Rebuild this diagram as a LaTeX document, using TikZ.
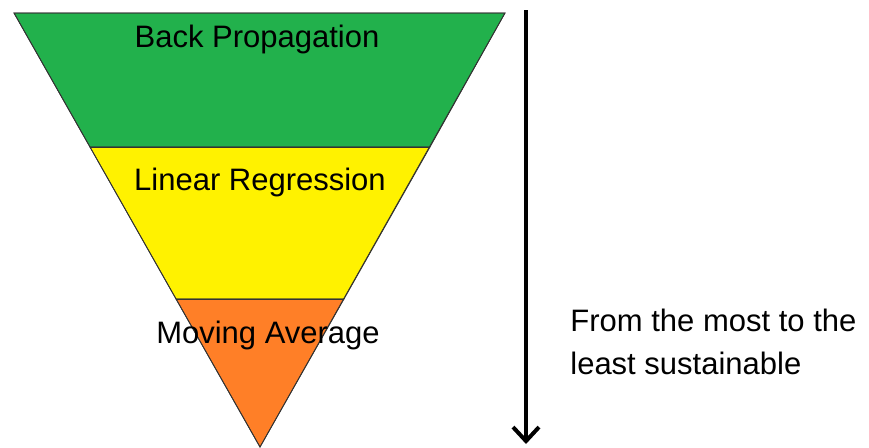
\documentclass[tikz,border=0pt]{standalone}
\usepackage{fontspec}
\setmainfont{Liberation Sans}
\usepackage{tikz}
\usetikzlibrary{arrows.meta}
\usetikzlibrary{positioning}
\definecolor{bandgreen}{HTML}{22B14C}
\definecolor{bandyellow}{HTML}{FFF200}
\definecolor{bandorange}{HTML}{FF7F27}
\tikzset{every picture/.style={line width=0.75pt}}

\begin{document}
\begin{tikzpicture}[x=1pt, y=-1pt,
    band/.style={draw=black!80, line width=0.8pt, line join=miter},
    bandlabel/.style={anchor=base, inner sep=0pt, font=\fontsize{31}{37}\selectfont}]
\useasboundingbox (0,0) rectangle (869,447);

% the three layers of the funnel
\fill[band, fill=bandgreen] (14,13) -- (505,13) -- (430,147) -- (90,147) -- cycle;
\fill[band, fill=bandyellow] (90,147) -- (430,147) -- (344,299) -- (176,299) -- cycle;
\fill[band, fill=bandorange] (176,299) -- (344,299) -- (260,447) -- cycle;
\draw[band] (14,13) -- (505,13) -- (260,447) -- cycle;
\draw[band] (90,147) -- (430,147);
\draw[band] (176,299) -- (344,299);

\node[bandlabel] (backprop) at (257,47) {Back Propagation};
\node[bandlabel] (linreg) at (260,190) {Linear Regression};
\node[bandlabel] (movavg) at (268,343) {Moving Average};

% direction of the ranking
\coordinate (arrtop) at (526,10);
\coordinate (arrbot) at (526,444);
\draw[line width=4pt, -{Straight Barb[length=14pt, width=26pt, line width=4pt]}] (arrtop) -- (arrbot);

\node[anchor=north west, inner sep=0pt, align=left, font=\fontsize{31}{43}\selectfont] (caption) at (570,309) {From the most to the\\least sustainable};
\end{tikzpicture}
\end{document}
